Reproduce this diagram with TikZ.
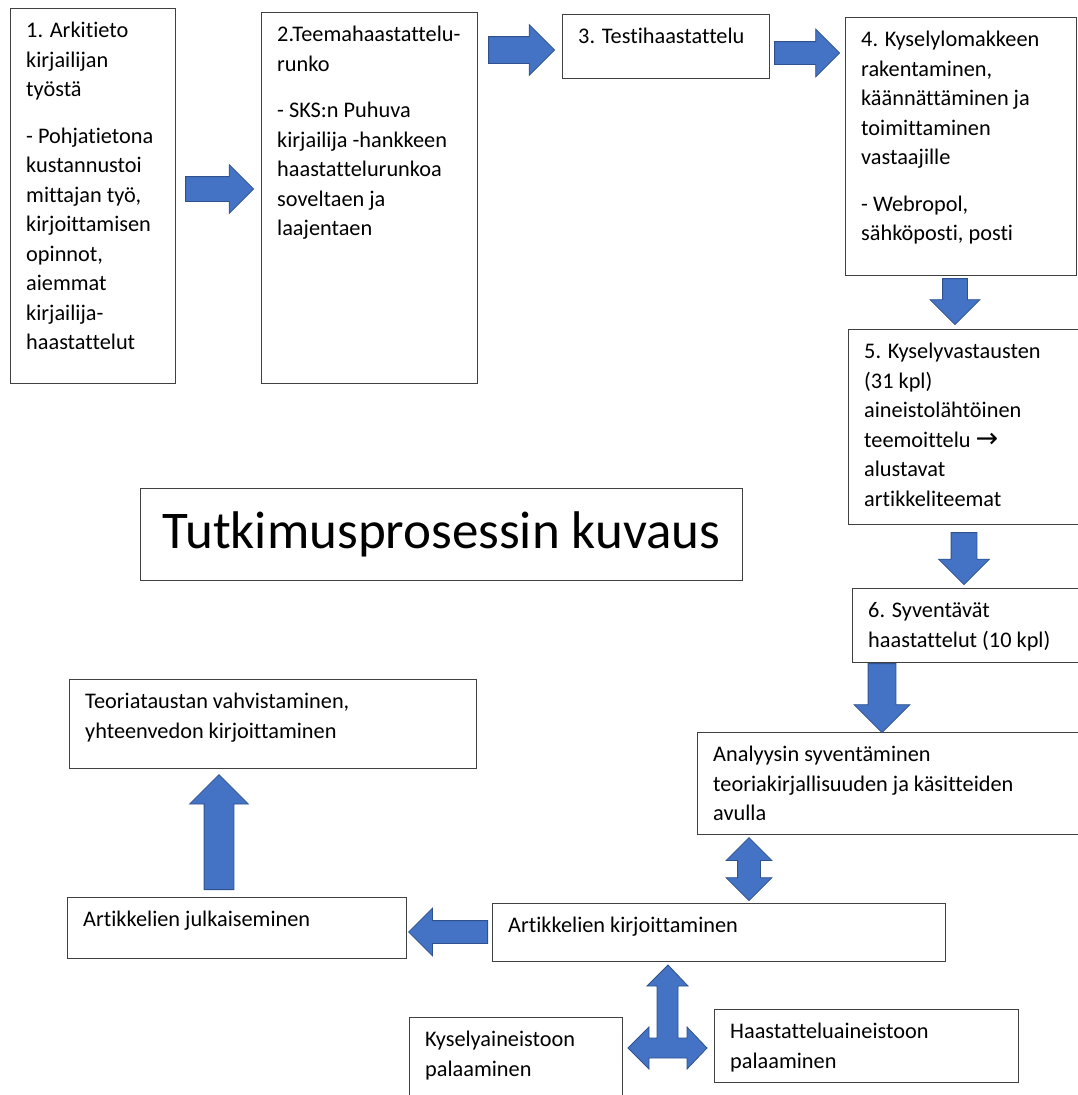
\documentclass[tikz,border=0pt]{standalone}
\usepackage{fontspec}
\setmainfont{Carlito}[RawFeature={-liga;-clig;-calt;-dlig}]
\newfontfamily\arrowfont{DejaVu Sans}
\usetikzlibrary{calc,shapes.arrows}
\definecolor{arrowblue}{HTML}{4472C4}
\definecolor{arrowline}{HTML}{2F528F}
\newcommand{\steptext}[3]{\node[txt] (#1) at ($(#2.north west)+(16,29.5)$) {\begin{tabular}[t]{@{}l@{}}#3\end{tabular}};}
\begin{document}
\begin{tikzpicture}[x=1pt,y=-1pt,
  stepbox/.style={draw=black!75,line width=1.2pt,anchor=north west,inner sep=0pt},
  txt/.style={anchor=base west,inner sep=0pt,font=\fontsize{22.3}{29.5}\selectfont},
  arrowlook/.style={draw=arrowline,fill=arrowblue,line width=.8pt,inner xsep=0pt},
  blockarrow/.style n args={3}{single arrow,arrowlook,anchor=tail,minimum height=#1,inner ysep=#2/2,
    single arrow head extend=#3,minimum width=#2+2*#3,single arrow tip angle=90,single arrow head indent=0pt},
  twoway/.style n args={3}{double arrow,arrowlook,minimum height=#1,inner ysep=#2/2,
    double arrow head extend=#3,minimum width=#2+2*#3,double arrow tip angle=90,double arrow head indent=0pt}]
\useasboundingbox (0,0) rectangle (1078,1095);
% boxes
\node[stepbox,minimum width=165,minimum height=375] (s1) at (10,8) {};
\node[stepbox,minimum width=216,minimum height=371] (s2) at (261,12) {};
\node[stepbox,minimum width=207,minimum height=64] (s3) at (562,14) {};
\node[stepbox,minimum width=231,minimum height=258] (s4) at (845,17) {};
\node[stepbox,minimum width=237,minimum height=195] (s5) at (848,329) {};
\node[stepbox,minimum width=233,minimum height=74] (s6) at (852,588) {};
\node[stepbox,minimum width=388,minimum height=102] (syv) at (697,732) {};
\node[stepbox,minimum width=453,minimum height=58] (kirj) at (492,903) {};
\node[stepbox,minimum width=339,minimum height=61] (julk) at (67,897) {};
\node[stepbox,minimum width=407,minimum height=89] (teoria) at (69,679) {};
\node[stepbox,minimum width=213,minimum height=83] (kysely) at (409,1017) {};
\node[stepbox,minimum width=304,minimum height=73] (haast) at (714,1009) {};
\node[stepbox,minimum width=602,minimum height=92,font=\fontsize{53}{60}\selectfont] (title) at (140,488) {Tutkimusprosessin kuvaus};
% texts
\steptext{t1}{s1}{1. Arkitieto\\kirjailijan\\työstä\\[17pt]- Pohjatietona\\kustannustoi\\mittajan työ,\\kirjoittamisen\\opinnot,\\aiemmat\\kirjailija-\\haastattelut}
\steptext{t2}{s2}{2.Teemahaastattelu-\\runko\\[17pt]- SKS:n Puhuva\\kirjailija -hankkeen\\haastattelurunkoa\\soveltaen ja\\laajentaen}
\steptext{t3}{s3}{3. Testihaastattelu}
\steptext{t4}{s4}{4. Kyselylomakkeen\\rakentaminen,\\käännättäminen ja\\toimittaminen\\vastaajille\\[17pt]- Webropol,\\sähköposti, posti}
\steptext{t5}{s5}{5. Kyselyvastausten\\(31 kpl)\\aineistolähtöinen\\teemoittelu {\arrowfont\fontsize{27}{29.5}\selectfont →}\\alustavat\\artikkeliteemat}
\steptext{t6}{s6}{6. Syventävät\\haastattelut (10 kpl)}
\steptext{tsyv}{syv}{Analyysin syventäminen\\teoriakirjallisuuden ja käsitteiden\\avulla}
\steptext{tkirj}{kirj}{Artikkelien kirjoittaminen}
\steptext{tjulk}{julk}{Artikkelien julkaiseminen}
\steptext{tteoria}{teoria}{Teoriataustan vahvistaminen,\\yhteenvedon kirjoittaminen}
\steptext{tkysely}{kysely}{Kyselyaineistoon\\palaaminen}
\steptext{thaast}{haast}{Haastatteluaineistoon\\palaaminen}
% block arrows, placed by their tails
\node[blockarrow={68}{24}{12}] (a12) at ($(s1.east |- 0,189)+(9,0)$) {};
\node[blockarrow={66}{26}{12}] (a23) at ($(s2.east |- 0,50)+(10,0)$) {};
\node[blockarrow={65}{22}{12.5}] (a34) at ($(s3.east |- 0,53)+(4,0)$) {};
\node[blockarrow={46}{24}{12.5},rotate=-90] (a45) at ($(s4.south -| 955,0)+(0,2)$) {};
\node[blockarrow={52}{25}{12.5},rotate=-90] (a56) at ($(s5.south -| 964,0)+(0,7)$) {};
\node[blockarrow={69}{27}{14},rotate=-90] (a6s) at (s6.south -| 882,0) {};
\node[blockarrow={79}{22}{12.5},rotate=180] (akj) at ($(kirj.west |- 0,932)+(-4,0)$) {};
\node[blockarrow={115}{29}{14.5},rotate=90] (ajt) at ($(julk.north -| 219,0)+(0,-7)$) {};
\coordinate (gsk) at ($(syv.south)!.5!(kirj.north)$);
\node[twoway={63}{22}{11.5},rotate=90] (ask) at (gsk -| 749,0) {};
% three-way arrow below the writing box
\coordinate (tj) at (668,1048);
\draw[arrowlook,shift={(tj)}]
  (0,-83) -- (20,-62) -- (10,-62) -- (10,-10) -- (19,-10) -- (19,-21) -- (39,0)
  -- (19,21) -- (19,10) -- (-19,10) -- (-19,21) -- (-40,0) -- (-19,-21) -- (-19,-10)
  -- (-11,-10) -- (-11,-62) -- (-21,-62) -- cycle;
\end{tikzpicture}
\end{document}
